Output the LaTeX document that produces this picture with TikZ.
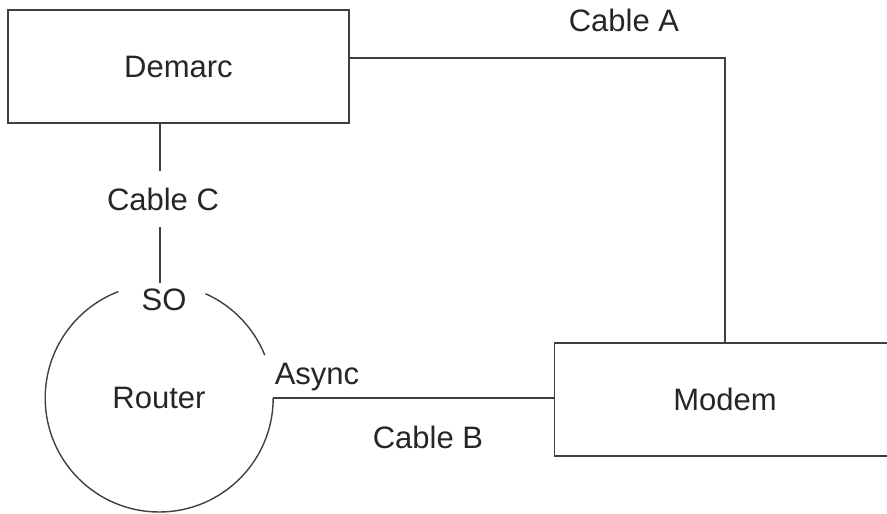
\documentclass[tikz,border=0pt]{standalone}
\usepackage{fontspec}
\setmainfont{Liberation Sans}
\usepackage{xcolor}
\usepackage{tikz}

\begin{document}
\begin{tikzpicture}[x=1pt,y=-1pt,
	box/.style={draw=black!75,line width=1.4pt,minimum width=341pt,minimum height=113pt,font=\fontsize{31}{36}\selectfont,text=black!85},
	lbl/.style={font=\fontsize{31}{36}\selectfont,text=black!85,inner sep=0pt},
	wire/.style={draw=black!75,line width=1.4pt}]
	\useasboundingbox (0,0) rectangle (887,514);
	\clip (0,0) rectangle (887,514);
	
	\node[box] (Demarc) at (178.5,66.5) {Demarc};
	\node[box] (Modem) at (725,399.5) {Modem};
	\node[lbl,circle,minimum size=228pt] (Router) at (159,398) {Router};
	
	\node[lbl] (cableA) at (624,20) {Cable A};
	\node[lbl] (cableB) at (428,437) {Cable B};
	\node[lbl,inner ysep=16pt] (cableC) at (163,199) {Cable C};
	\node[lbl,inner ysep=6pt] (SO) at (164,300) {SO};
	\node[lbl] (Async) at (317,377) {Async};
	
	\draw[wire] (Router.66) arc[start angle=66,end angle=22,radius=114pt];
	\draw[wire] (Router.0) arc[start angle=0,end angle=-249,radius=114pt];
	
	\coordinate (demarcport) at ([xshift=-18.5pt]Demarc.south);
	\draw[wire] ([yshift=8.5pt]Demarc.east) -| (Modem.north);
	\draw[wire] (demarcport) -- (demarcport |- cableC.north);
	\draw[wire] (demarcport |- cableC.south) -- (demarcport |- SO.north);
	\draw[wire] (Router.east) -- (Router.east -| Modem.west);
\end{tikzpicture}
\end{document}
